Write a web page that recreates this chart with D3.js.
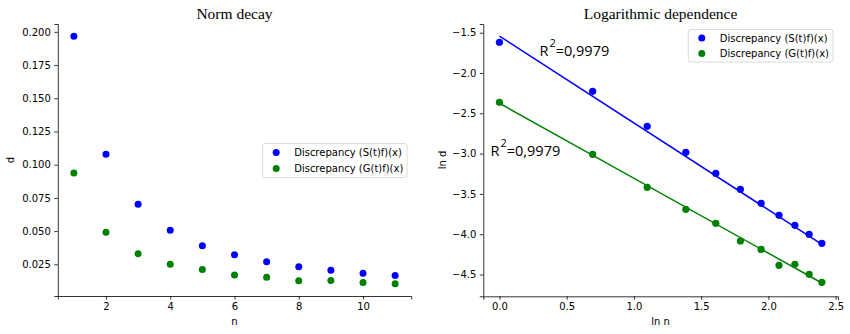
<!DOCTYPE html>
<html><head><meta charset="utf-8">
<script src="https://cdn.jsdelivr.net/npm/d3@7/dist/d3.min.js"></script>
<style>body{margin:0;background:#fff}svg{display:block}</style>
</head><body>
<script>
// ---- data ----
const n = [1,2,3,4,5,6,7,8,9,10,11];
const dS = [0.1967,0.1078,0.0702,0.0506,0.0390,0.0322,0.0270,0.0232,0.0205,0.0182,0.0165];
const dG = [0.0938,0.0492,0.0330,0.0250,0.0211,0.0170,0.0152,0.0127,0.0128,0.0112,0.0103];
const lnN = [0,0.693,1.099,1.386,1.609,1.792,1.946,2.079,2.197,2.303,2.398];
const lnS = [-1.619,-2.227,-2.661,-2.984,-3.245,-3.443,-3.617,-3.766,-3.890,-4.001,-4.113];
const lnG = [-2.364,-3.009,-3.418,-3.691,-3.865,-4.084,-4.188,-4.386,-4.373,-4.497,-4.597];
const fitS = [-1.541,-1.078]; // intercept, slope
const fitG = [-2.375,-0.930];
const seriesNames = ["Discrepancy (S(t)f)(x)","Discrepancy (G(t)f)(x)"];
const colors = ["#0000ff","#008000"];
const xTicksL = [2,4,6,8,10];
const yTicksL = [0.025,0.050,0.075,0.100,0.125,0.150,0.175,0.200];
const xTicksR = [0.0,0.5,1.0,1.5,2.0,2.5];
const yTicksR = [-4.5,-4.0,-3.5,-3.0,-2.5,-2.0,-1.5];
const r2Text = "0,9979";

const W=850,H=334;
const svg=d3.select("body").append("svg").attr("width",W).attr("height",H);
const tickFont='DejaVu Sans';

function styleAxis(g){
  g.selectAll("path").attr("stroke","#000").attr("stroke-width",0.8);
  g.selectAll("line").attr("stroke","#000").attr("stroke-width",0.8);
  g.selectAll("text").attr("font-family",tickFont).attr("font-size","10px").attr("fill","#000");
}
const minus = s => s.replace("-","\u2212");

function legend(x0,y0,w,h,rows){
  const g=svg.append("g");
  g.append("rect").attr("x",x0).attr("y",y0).attr("width",w).attr("height",h)
    .attr("rx",2.5).attr("fill","#fff").attr("fill-opacity",0.8).attr("stroke","#d0d0d0").attr("stroke-width",0.8);
  seriesNames.forEach((s,i)=>{
    const cy=rows[i];
    g.append("circle").attr("cx",x0+13.5).attr("cy",cy).attr("r",3.5).attr("fill",colors[i]);
    g.append("text").attr("x",x0+31.5).attr("y",cy+3.6).attr("font-family",tickFont).attr("font-size","10px").attr("fill","#000").text(s);
  });
}

// ---- left chart ----
const xL=d3.scaleLinear().domain([0.5,11.5]).range([57.8,411.2]);
const yL=d3.scaleLinear().domain([0.00113,0.2059]).range([296,24]);
svg.append("g").attr("transform","translate(0,296)")
  .call(d3.axisBottom(xL).tickValues(xTicksL).tickSize(3.5).tickPadding(3.5).tickFormat(d3.format("d"))).call(styleAxis);
svg.append("g").attr("transform","translate(57.8,0)")
  .call(d3.axisLeft(yL).tickValues(yTicksL).tickSize(3.5).tickPadding(3.5).tickFormat(d3.format(".3f"))).call(styleAxis);
[dS,dG].forEach((arr,i)=>{
  svg.append("g").selectAll("circle").data(arr).join("circle")
    .attr("cx",(d,j)=>xL(n[j])).attr("cy",d=>yL(d)).attr("r",3.5).attr("fill",colors[i]);
});
svg.append("text").attr("x",234.5).attr("y",18.5).attr("text-anchor","middle")
  .attr("font-family","Liberation Serif").attr("font-size","15.5px").text("Norm decay");
svg.append("text").attr("x",234.5).attr("y",325).attr("text-anchor","middle")
  .attr("font-family",tickFont).attr("font-size","10px").text("n");
svg.append("text").attr("transform","translate(13.5,160) rotate(-90)").attr("text-anchor","middle")
  .attr("font-family",tickFont).attr("font-size","10px").text("d");
legend(262.7,143.5,144.3,34,[152.5,168.5]);

// ---- right chart ----
const xR=d3.scaleLinear().domain([-0.1199,2.5178]).range([483.3,838]);
const yR=d3.scaleLinear().domain([-4.770,-1.392]).range([296.3,24]);
svg.append("g").attr("transform","translate(0,296.3)")
  .call(d3.axisBottom(xR).tickValues(xTicksR).tickSize(3.5).tickPadding(3.5).tickFormat(d3.format(".1f"))).call(styleAxis);
svg.append("g").attr("transform","translate(483.3,0)")
  .call(d3.axisLeft(yR).tickValues(yTicksR).tickSize(3.5).tickPadding(3.5).tickFormat(d=>minus(d3.format(".1f")(d)))).call(styleAxis);
[fitS,fitG].forEach((f,i)=>{
  const ends=[lnN[0],lnN[lnN.length-1]];
  svg.append("path").datum(ends).attr("fill","none").attr("stroke",colors[i]).attr("stroke-width",1.5)
    .attr("d",d3.line().x(d=>xR(d)).y(d=>yR(f[0]+f[1]*d)));
});
[lnS,lnG].forEach((arr,i)=>{
  svg.append("g").selectAll("circle").data(arr).join("circle")
    .attr("cx",(d,j)=>xR(lnN[j])).attr("cy",d=>yR(d)).attr("r",3.6).attr("fill",colors[i]);
});
svg.append("text").attr("x",660.5).attr("y",18.5).attr("text-anchor","middle")
  .attr("font-family","Liberation Serif").attr("font-size","15.5px").text("Logarithmic dependence");
svg.append("text").attr("x",660.5).attr("y",325).attr("text-anchor","middle")
  .attr("font-family",tickFont).attr("font-size","10px").text("ln n");
svg.append("text").attr("transform","translate(445.5,160) rotate(-90)").attr("text-anchor","middle")
  .attr("font-family",tickFont).attr("font-size","10px").text("ln d");
function r2(x,y){
  const t=svg.append("text").attr("x",x).attr("y",y).attr("font-family","Open Sans").attr("font-size","14.5px").attr("fill","#000");
  t.append("tspan").text("R");
  t.append("tspan").attr("dx",1).attr("dy",-9.5).attr("font-size","11px").text("2");
  t.append("tspan").attr("dy",9.5).text("="+r2Text);
}
r2(539.5,56);
r2(490.5,156);
legend(688.3,29.5,144.7,32.5,[37.9,53.4]);
</script>
</body></html>
